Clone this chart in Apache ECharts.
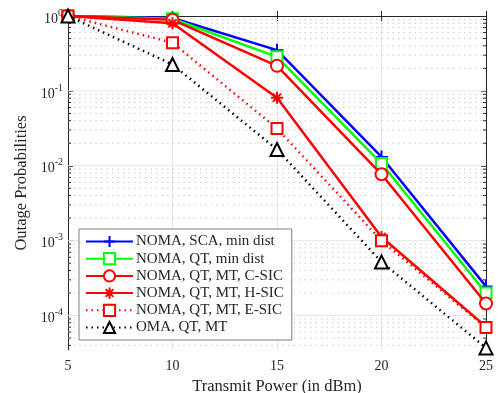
<!DOCTYPE html>
<html>
<head>
<meta charset="utf-8">
<script src="https://cdn.jsdelivr.net/npm/echarts@6/dist/echarts.min.js"></script>
<style>
  html, body { margin: 0; padding: 0; background: #fff; }
  #chart { width: 499px; height: 393px; }
</style>
</head>
<body>
<div id="chart"></div>
<script>
// transmit power (dBm)
const powers = [5, 10, 15, 20, 25];

// outage probabilities
const scaMinDist = [1.0, 0.94, 0.35, 0.0131, 2.45e-4];
const qtMinDist = [1.0, 0.92, 0.285, 0.0107, 2.0e-4];
const qtMtCSic = [1.0, 0.89, 0.216, 0.0077, 1.45e-4];
const qtMtHSic = [1.0, 0.80, 0.081, 1.12e-3, 7.1e-5];
const qtMtESic = [1.0, 0.44, 0.0315, 1.0e-3, 6.9e-5];
const omaQtMt = [1.0, 0.225, 0.0165, 5.2e-4, 3.7e-5];

const seriesNames = [
  'NOMA, SCA, min dist',
  'NOMA, QT, min dist',
  'NOMA, QT, MT, C-SIC',
  'NOMA, QT, MT, H-SIC',
  'NOMA, QT, MT, E-SIC',
  'OMA, QT, MT'
];

// decades shown on the y axis (log10 of the tick value)
const decades = [-4, -3, -2, -1, 0];

// y axis works in log10 space
const yMin = -4.46;
const yMax = 0;

const FONT = 'Liberation Serif';
const AX = '#262626';

const toLog = arr => arr.map((v, i) => [powers[i], Math.log10(v)]);

// grid positions: 1 x 10^k solid, 2..9 x 10^k dotted
const gridVals = [];
for (let k = -5; k <= 0; k++) {
  for (let m = 1; m <= 9; m++) {
    const v = k + Math.log10(m);
    if (v > yMin && v < yMax) gridVals.push([m === 1 ? 1 : 0, v]);
  }
}

const plusPath = 'path://M5,0L5,10M0,5L10,5';
const starPath = 'path://M5,0L5,10M0,5L10,5M1.6,1.6L8.4,8.4M8.4,1.6L1.6,8.4';

function mkLine(name, data, color, symbol, size, dotted, z) {
  return {
    name: name,
    type: 'line',
    data: toLog(data),
    symbol: symbol,
    symbolSize: size,
    showAllSymbol: true,
    z: z,
    lineStyle: { color: color, width: 2.5, type: dotted ? [1.5, 4] : 'solid' },
    itemStyle: { color: color, borderColor: color, borderWidth: 2 },
    emphasis: { disabled: true }
  };
}

const chart = echarts.init(document.getElementById('chart'), null, { renderer: 'canvas' });

const option = {
  animation: false,
  backgroundColor: '#fff',
  textStyle: { fontFamily: FONT },
  grid: { left: 68, right: 13, top: 16, bottom: 43, containLabel: false, outerBoundsMode: 'none' },
  legend: {
    orient: 'vertical',
    left: 79,
    top: 229,
    padding: [5, 8, 5, 6],
    itemWidth: 47,
    itemHeight: 14,
    itemGap: 2.2,
    backgroundColor: '#fff',
    borderColor: '#7f7f7f',
    borderWidth: 1,
    borderRadius: 0,
    textStyle: { fontFamily: FONT, fontSize: 15, lineHeight: 12, color: AX, padding: [0, 0, 0, -2] },
    data: seriesNames
  },
  xAxis: [{
    type: 'value',
    min: 5,
    max: 25,
    interval: 5,
    name: 'Transmit Power (in dBm)',
    nameLocation: 'middle',
    nameGap: 24,
    nameTextStyle: { fontFamily: FONT, fontSize: 16.5, color: AX },
    axisLine: { show: true, lineStyle: { color: AX, width: 1 } },
    axisTick: { show: true, inside: true, length: 5, lineStyle: { color: AX } },
    axisLabel: { fontFamily: FONT, fontSize: 14, color: AX, margin: 9 },
    splitLine: { show: true, lineStyle: { color: '#e6e6e6', width: 1 } }
  }, {
    type: 'value',
    position: 'top',
    min: 5,
    max: 25,
    interval: 5,
    axisLine: { show: true, lineStyle: { color: AX, width: 1 } },
    axisTick: { show: true, inside: true, length: 5, lineStyle: { color: AX } },
    axisLabel: { show: false },
    splitLine: { show: false }
  }],
  yAxis: [{
    type: 'value',
    min: yMin,
    max: yMax,
    name: 'Outage Probabilities',
    nameLocation: 'middle',
    nameGap: 33,
    nameTextStyle: { fontFamily: FONT, fontSize: 16.5, color: AX },
    axisLine: { show: true, lineStyle: { color: AX, width: 1 } },
    axisTick: { show: true, inside: true, length: 5, lineStyle: { color: AX }, customValues: decades },
    axisLabel: {
      margin: 5,
      customValues: decades,
      formatter: function (v) {
        return '{b|10}{s|' + Math.round(v) + '}';
      },
      rich: {
        b: { fontFamily: FONT, fontSize: 14, color: AX, lineHeight: 20, verticalAlign: 'bottom', padding: [4, 0, 0, 0] },
        s: { fontFamily: FONT, fontSize: 10, color: AX, verticalAlign: 'top', lineHeight: 20, padding: [2, 0, 0, 0] }
      }
    },
    splitLine: { show: false }
  }, {
    type: 'value',
    position: 'right',
    min: yMin,
    max: yMax,
    axisLine: { show: true, lineStyle: { color: AX, width: 1 } },
    axisTick: { show: true, inside: true, length: 5, lineStyle: { color: AX }, customValues: decades },
    axisLabel: { show: false },
    splitLine: { show: false }
  }],
  series: [
    {
      // y grid: solid at decades, dotted at 2..9, with minor ticks on both sides
      type: 'custom',
      silent: true,
      z: 1,
      data: gridVals,
      renderItem: function (params, api) {
        const major = api.value(0) === 1;
        const v = api.value(1);
        const a = api.coord([5, v]);
        const b = api.coord([25, v]);
        const children = [{
          type: 'line',
          shape: { x1: a[0], y1: a[1], x2: b[0], y2: b[1] },
          style: major
            ? { stroke: '#e6e6e6', lineWidth: 1 }
            : { stroke: '#c8c8c8', lineWidth: 1, lineDash: [1.5, 4] }
        }];
        if (!major) {
          children.push({
            type: 'line',
            shape: { x1: a[0], y1: a[1], x2: a[0] + 3, y2: a[1] },
            style: { stroke: AX, lineWidth: 1 }
          }, {
            type: 'line',
            shape: { x1: b[0] - 3, y1: b[1], x2: b[0], y2: b[1] },
            style: { stroke: AX, lineWidth: 1 }
          });
        }
        return { type: 'group', children: children };
      }
    },
    mkLine(seriesNames[0], scaMinDist, '#0000ff', plusPath, 13, false, 2),
    mkLine(seriesNames[1], qtMinDist, '#00ff00', 'emptyRect', 11, false, 3),
    mkLine(seriesNames[2], qtMtCSic, '#ff0000', 'emptyCircle', 12, false, 4),
    mkLine(seriesNames[3], qtMtHSic, '#ff0000', starPath, 12, false, 5),
    mkLine(seriesNames[4], qtMtESic, '#ff0000', 'emptyRect', 11, true, 6),
    mkLine(seriesNames[5], omaQtMt, '#000000', 'emptyTriangle', 13, true, 7)
  ]
};

chart.setOption(option);
</script>
</body>
</html>
